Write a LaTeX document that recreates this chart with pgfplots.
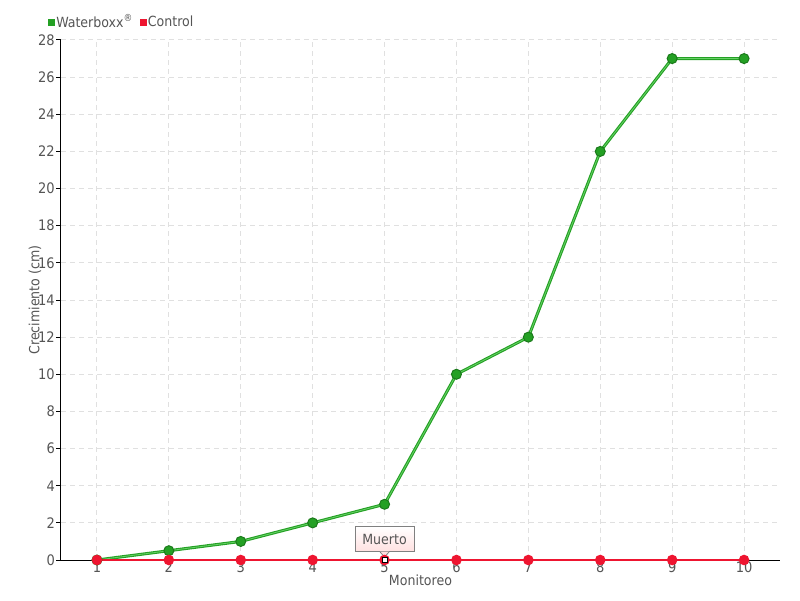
\documentclass[border=0pt]{standalone}
\usepackage{fontspec}
\setmainfont{DejaVu Sans Condensed}
\usepackage{pgfplots}
\pgfplotsset{compat=1.18}
\definecolor{wgreen}{HTML}{24A024}
\definecolor{wgreendark}{HTML}{1B7A1B}
\definecolor{ctrlred}{HTML}{EE1530}
\definecolor{labelgray}{HTML}{555555}
\definecolor{gridgray}{HTML}{E0E0E0}
\begin{document}
\begin{tikzpicture}
\path[use as bounding box] (-61pt,-40pt) rectangle (739pt,560pt);
\begin{axis}[
  at={(0,0)}, anchor=south west,
  scale only axis, width=719pt, height=520pt,
  xmin=0.5, xmax=10.5, ymin=0, ymax=28,
  xtick={1,...,10}, ytick={0,2,...,28},
  grid=major,
  major grid style={color=gridgray, line width=1pt, dash pattern=on 5pt off 4pt},
  axis x line*=bottom, axis y line*=left,
  axis line style={black, line width=1pt},
  xtick style={draw=none},
  ytick style={black, line width=1pt},
  major tick length=5pt, ytick align=outside,
  /pgf/number format/assume math mode=true,
  ticklabel style={font=\fontsize{14.5}{16}\selectfont, text=labelgray},
  xticklabel style={inner sep=0pt, yshift=-2pt},
  yticklabel style={inner sep=1pt},
  xlabel={Monitoreo}, ylabel={Crecimiento (cm)},
  label style={font=\fontsize{14}{16}\selectfont, text=labelgray},
  xlabel style={at={(axis description cs:0.5,0)}, anchor=center, yshift=-20pt},
  ylabel style={at={(axis description cs:0,0.5)}, anchor=center, yshift=26pt},
  clip=false,
  legend style={draw=none, fill=none, legend columns=2, at={(-0.018,1.035)}, anchor=west,
    font=\fontsize{14}{16}\selectfont, text=labelgray, inner sep=0pt,
    /tikz/every even column/.append style={column sep=5pt}},
  legend cell align=left,
]
\addlegendimage{only marks, mark=square*, mark size=3pt, color=wgreen}
\addlegendentry{Waterboxx\textsuperscript{®}}
\addlegendimage{only marks, mark=square*, mark size=3pt, color=ctrlred}
\addlegendentry{Control}
\addplot[forget plot, wgreen, line width=3pt, mark=*, mark size=5pt,
  mark options={fill=wgreen, draw=wgreendark, line width=1pt}]
  coordinates {(1,0)(2,0.5)(3,1)(4,2)(5,3)(6,10)(7,12)(8,22)(9,27)(10,27)};
\addplot[forget plot, green!70!black!60, line width=0.8pt]
  coordinates {(1,0)(2,0.5)(3,1)(4,2)(5,3)(6,10)(7,12)(8,22)(9,27)(10,27)};
\addplot[forget plot, ctrlred, line width=1.5pt, mark=*, mark size=4.5pt,
  mark options={fill=ctrlred, draw=ctrlred}]
  coordinates {(1,0)(2,0)(3,0)(4,0)(5,0)(6,0)(7,0)(8,0)(9,0)(10,0)};
\addplot[forget plot, only marks, mark=square*, mark size=2.5pt,
  mark options={fill=white, draw=black, line width=1pt}]
  coordinates {(5,0)};
\node[draw=gray, line width=0.8pt, top color=white, bottom color=red!12,
  minimum width=59pt, minimum height=25pt, inner sep=2pt,
  font=\fontsize{14}{16}\selectfont, text=labelgray,
  anchor=south] (tip) at ([yshift=8pt]axis cs:5,0) {Muerto};
\fill[red!12] ([xshift=-4.5pt,yshift=0.4pt]tip.south) -- ([yshift=-5pt]tip.south) -- ([xshift=4.5pt,yshift=0.4pt]tip.south) -- cycle;
\draw[gray, line width=0.8pt] ([xshift=-4.5pt]tip.south) -- ([yshift=-5pt]tip.south) -- ([xshift=4.5pt]tip.south);
\end{axis}
\end{tikzpicture}
\end{document}
